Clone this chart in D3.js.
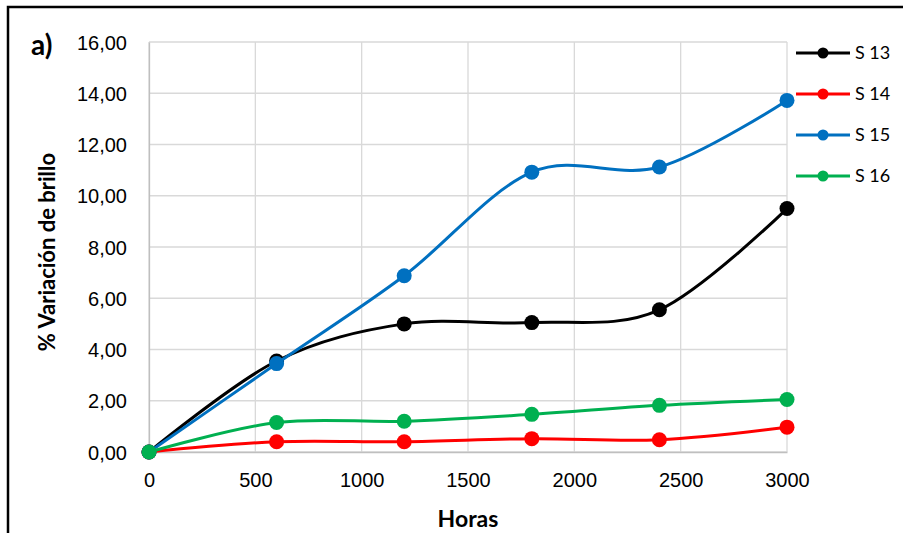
<!DOCTYPE html>
<html>
<head>
<meta charset="utf-8">
<script src="https://cdn.jsdelivr.net/npm/d3@7"></script>
<style>
  body { margin: 0; background: #fff; }
  svg { display: block; font-family: Lato, "Open Sans", sans-serif; }
  .grid line { stroke: #d9d9d9; stroke-width: 1.3; }
  .axis text { fill: #000; font-size: 20px; }
</style>
</head>
<body>
<svg id="chart" width="903" height="533"></svg>
<script>
// hours of exposure
var horas = [0, 600, 1200, 1800, 2400, 3000];
var s13 = [0, 3.55, 5.0, 5.05, 5.55, 9.5];
var s14 = [0, 0.40, 0.40, 0.52, 0.48, 0.97];
var s15 = [0, 3.45, 6.88, 10.92, 11.12, 13.72];
var s16 = [0, 1.15, 1.20, 1.47, 1.82, 2.05];
var seriesNames = ["S 13", "S 14", "S 15", "S 16"];
var xTicks = [0, 500, 1000, 1500, 2000, 2500, 3000];
var yTicks = [0, 2, 4, 6, 8, 10, 12, 14, 16];

var series = [
  { name: seriesNames[0], values: s13, color: "#000000" },
  { name: seriesNames[1], values: s14, color: "#ff0000" },
  { name: seriesNames[2], values: s15, color: "#0070c0" },
  { name: seriesNames[3], values: s16, color: "#00b050" }
];

var margin = { left: 149, right: 116, top: 42, bottom: 81 };
var svg = d3.select("#chart");
var width = +svg.attr("width") - margin.left - margin.right;
var height = +svg.attr("height") - margin.top - margin.bottom;

// outer frame (only top and left edges are in view)
svg.append("path")
  .attr("d", "M8,533V7H903")
  .attr("fill", "none")
  .attr("stroke", "#000")
  .attr("stroke-width", 2.5);

var g = svg.append("g")
  .attr("transform", "translate(" + margin.left + "," + margin.top + ")");

var x = d3.scaleLinear().domain([0, 3000]).range([0, width]);
var y = d3.scaleLinear().domain([0, 16]).range([height, 0]);

// gridlines
g.append("g").attr("class", "grid")
  .selectAll("line.h").data(yTicks).enter().append("line")
  .attr("x1", 0).attr("x2", width)
  .attr("y1", function(d) { return y(d); })
  .attr("y2", function(d) { return y(d); });
g.append("g").attr("class", "grid")
  .selectAll("line.v").data(xTicks).enter().append("line")
  .attr("y1", 0).attr("y2", height)
  .attr("x1", function(d) { return x(d); })
  .attr("x2", function(d) { return x(d); });

var fmt = function(d) { return d3.format(".2f")(d).replace(".", ","); };

var yAxis = d3.axisLeft(y).tickValues(yTicks).tickSize(0).tickPadding(22).tickFormat(fmt);
var xAxis = d3.axisBottom(x).tickValues(xTicks).tickSize(0).tickPadding(21).tickFormat(d3.format("d"));

g.append("g").attr("class", "axis")
  .call(yAxis)
  .call(function(a) { a.select(".domain").attr("stroke", "#bfbfbf").attr("stroke-width", 1.3); })
  .selectAll("text").attr("dy", "0.35em");
g.append("g").attr("class", "axis")
  .attr("transform", "translate(0," + height + ")")
  .call(xAxis)
  .call(function(a) { a.select(".domain").attr("stroke", "#bfbfbf").attr("stroke-width", 1.3); });

var line = d3.line()
  .x(function(d, i) { return x(horas[i]); })
  .y(function(d) { return y(d); })
  .curve(d3.curveCatmullRom.alpha(0));

var sg = g.selectAll(".serie").data(series).enter().append("g").attr("class", "serie");
sg.append("path")
  .attr("d", function(d) { return line(d.values); })
  .attr("fill", "none")
  .attr("stroke", function(d) { return d.color; })
  .attr("stroke-width", 3);
sg.selectAll("circle")
  .data(function(d) { return d.values.map(function(v, i) { return { v: v, i: i, color: d.color }; }); })
  .enter().append("circle")
  .attr("cx", function(d) { return x(horas[d.i]); })
  .attr("cy", function(d) { return y(d.v); })
  .attr("r", 7.5)
  .attr("fill", function(d) { return d.color; });

// legend
var legend = svg.append("g").attr("transform", "translate(796,53)");
var item = legend.selectAll("g").data(series).enter().append("g")
  .attr("transform", function(d, i) { return "translate(0," + (i * 41) + ")"; });
item.append("line")
  .attr("x1", 0).attr("x2", 54)
  .attr("stroke", function(d) { return d.color; })
  .attr("stroke-width", 3);
item.append("circle")
  .attr("cx", 27).attr("r", 5.5)
  .attr("fill", function(d) { return d.color; });
item.append("text")
  .attr("x", 59).attr("dy", "0.35em")
  .style("font-size", "18px")
  .text(function(d) { return d.name; });

// titles
svg.append("text")
  .attr("transform", "translate(55,252) rotate(-90)")
  .attr("text-anchor", "middle")
  .style("font-size", "22px").style("font-weight", "bold")
  .text("% Variación de brillo");
svg.append("text")
  .attr("x", 468).attr("y", 527)
  .attr("text-anchor", "middle")
  .style("font-size", "23px").style("font-weight", "bold")
  .text("Horas");
svg.append("text")
  .attr("x", 31).attr("y", 55)
  .style("font-size", "28px").style("font-weight", "bold")
  .text("a)");
</script>
</body>
</html>
